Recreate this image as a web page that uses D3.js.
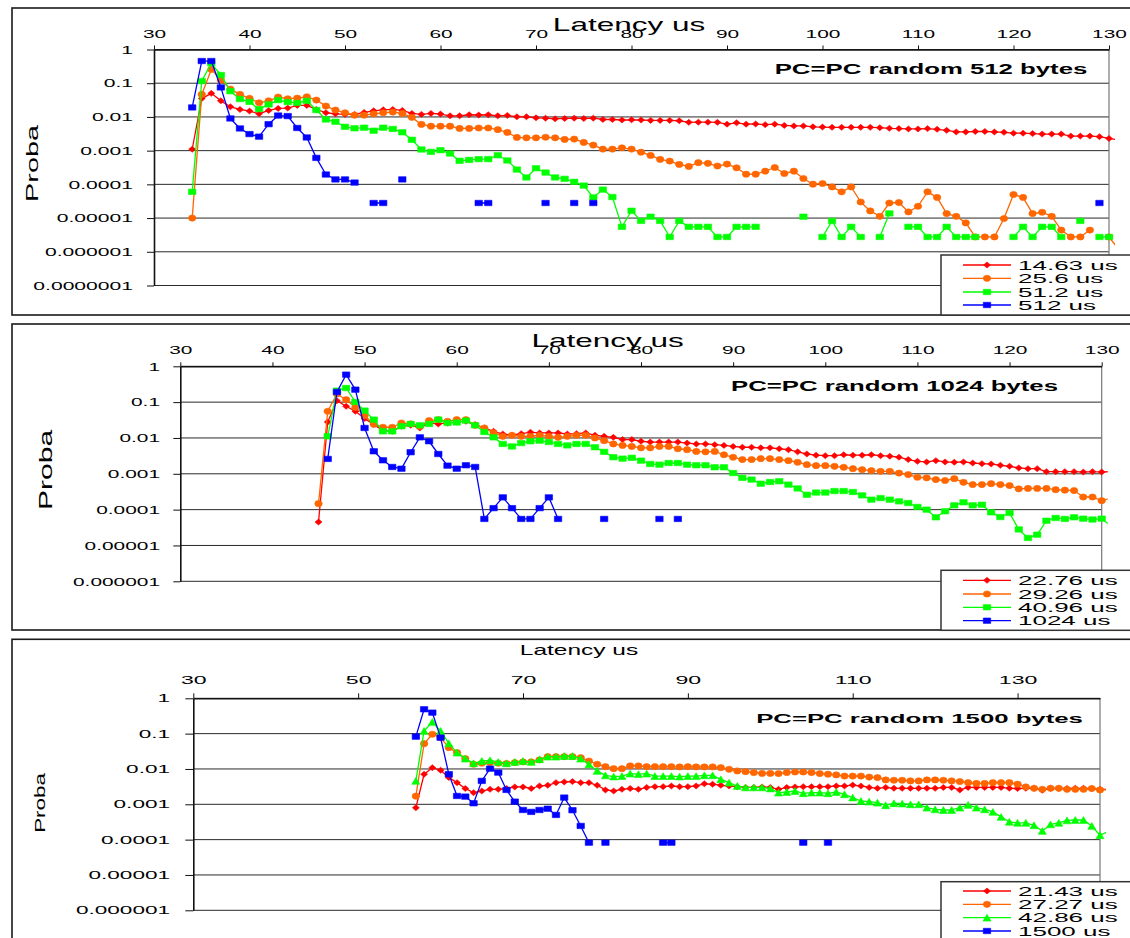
<!DOCTYPE html>
<html>
<head>
<meta charset="utf-8">
<script src="https://cdn.jsdelivr.net/npm/d3@7"></script>
<style>
  body { margin: 0; background: #fff; }
  svg { display: block; }
</style>
</head>
<body>
<svg id="chart" width="1130" height="938"></svg>
<script>
// ---------------- data ----------------
// Latency histograms (1 us bins), probability per bin. null = empty bin.

const yLabels7 = ['1', '0.1', '0.01', '0.001', '0.0001', '0.00001', '0.000001', '0.0000001'];
const yLabels6 = ['1', '0.1', '0.01', '0.001', '0.0001', '0.00001', '0.000001'];
const xLabels10 = [30, 40, 50, 60, 70, 80, 90, 100, 110, 120, 130];
const xLabels20 = [30, 50, 70, 90, 110, 130];

// 512 bytes
const lat512 = [34, 35, 36, 37, 38, 39, 40, 41, 42, 43,
  44, 45, 46, 47, 48, 49, 50, 51, 52, 53,
  54, 55, 56, 57, 58, 59, 60, 61, 62, 63,
  64, 65, 66, 67, 68, 69, 70, 71, 72, 73,
  74, 75, 76, 77, 78, 79, 80, 81, 82, 83,
  84, 85, 86, 87, 88, 89, 90, 91, 92, 93,
  94, 95, 96, 97, 98, 99, 100, 101, 102, 103,
  104, 105, 106, 107, 108, 109, 110, 111, 112, 113,
  114, 115, 116, 117, 118, 119, 120, 121, 122, 123,
  124, 125, 126, 127, 128, 129, 130, 131];
const p512_14_63 = [0.0011, 0.035, 0.050, 0.030, 0.020, 0.0167, 0.0149, 0.0124, 0.0156, 0.0179,
  0.0183, 0.022, 0.022, 0.0167, 0.0133, 0.0124, 0.0119, 0.0119, 0.0136, 0.0152,
  0.0163, 0.0167, 0.0156, 0.0127, 0.0119, 0.0127, 0.0122, 0.0108, 0.0108, 0.0116,
  0.0114, 0.0116, 0.0108, 0.0111, 0.0101, 0.0101, 0.0094, 0.0092, 0.0088, 0.0090,
  0.0092, 0.0090, 0.0092, 0.0084, 0.0084, 0.0081, 0.0082, 0.0081, 0.0079, 0.0079,
  0.0079, 0.0077, 0.0069, 0.0070, 0.0070, 0.0069, 0.0061, 0.0067, 0.0061, 0.0062,
  0.0059, 0.0061, 0.0056, 0.0054, 0.0054, 0.0051, 0.0050, 0.0049, 0.0049, 0.0049,
  0.0049, 0.0049, 0.0048, 0.0046, 0.0045, 0.0044, 0.0044, 0.0045, 0.0043, 0.0040,
  0.0036, 0.0036, 0.0037, 0.0037, 0.0036, 0.0035, 0.0033, 0.0033, 0.0032, 0.0031,
  0.0031, 0.0031, 0.0027, 0.0027, 0.0027, 0.0026, 0.0023, 0.0021];
const p512_25_6 = [1e-5, 0.0466, 0.257, 0.124, 0.067, 0.0466, 0.0355, 0.0263, 0.030, 0.0388,
  0.0346, 0.036, 0.0396, 0.0316, 0.021, 0.016, 0.0133, 0.0113, 0.0113, 0.0124,
  0.0133, 0.0139, 0.0127, 0.0097, 0.0060, 0.0053, 0.0053, 0.0053, 0.00455, 0.00455,
  0.0047, 0.0047, 0.0042, 0.00347, 0.00246, 0.0024, 0.0024, 0.0025, 0.0024, 0.00215,
  0.0022, 0.00175, 0.00146, 0.00111, 0.00111, 0.00121, 0.00111, 0.0009, 0.00072, 0.00055,
  0.00049, 0.00039, 0.00034, 0.00044, 0.00042, 0.00035, 0.0004, 0.00031, 0.0002, 0.0002,
  0.000246, 0.000316, 0.00021, 0.000246, 0.000149, 0.000101, 0.000106, 8.4e-5, 6.0e-5, 8.4e-5,
  3.0e-5, 1.63e-5, 1.13e-5, 2.8e-5, 2.9e-5, 1.52e-5, 2.24e-5, 6.0e-5, 4.1e-5, 1.36e-5,
  1.13e-5, 7.2e-6, 2.75e-6, 2.75e-6, 2.75e-6, 9.7e-6, 5.0e-5, 4.1e-5, 1.36e-5, 1.49e-5,
  1.13e-5, 4.4e-6, 2.75e-6, 2.75e-6, 4.4e-6, null, 2.75e-6, 1.2e-6];
const p512_51_2 = [6.0e-5, 0.116, 0.389, 0.175, 0.058, 0.034, 0.028, 0.017, 0.0235, 0.0316,
  0.0276, 0.026, 0.030, 0.016, 0.0084, 0.0072, 0.0051, 0.0046, 0.0048, 0.0039,
  0.0048, 0.0044, 0.0035, 0.0021, 0.00108, 0.00092, 0.00103, 0.00082, 0.0005, 0.00053,
  0.00056, 0.00056, 0.00073, 0.00051, 0.000275, 0.00016, 0.0003, 0.000224, 0.00016, 0.000146,
  0.000119, 9.2e-5, 4.1e-5, 7.0e-5, 4.2e-5, 5.5e-6, 1.65e-5, 8.25e-6, 1.1e-5, 8.25e-6,
  2.75e-6, 8.25e-6, 5.5e-6, 5.5e-6, 5.5e-6, 2.75e-6, 2.75e-6, 5.5e-6, 5.5e-6, 5.5e-6,
  null, null, null, null, 1.1e-5, null, 2.75e-6, 8.25e-6, 2.75e-6, 5.5e-6,
  2.75e-6, null, 2.75e-6, 1.375e-5, null, 5.5e-6, 5.5e-6, 2.75e-6, 2.75e-6, 5.5e-6,
  2.75e-6, 2.75e-6, 2.75e-6, null, null, null, 2.75e-6, 5.5e-6, 2.75e-6, 5.5e-6,
  5.5e-6, 2.75e-6, null, 8.25e-6, null, 2.75e-6, 2.75e-6, null];
const p512_512 = [0.0191, 0.455, 0.455, 0.075, 0.009, 0.00455, 0.0031, 0.0026, 0.0061, 0.011,
  0.0106, 0.0047, 0.00246, 0.00061, 0.000196, 0.00014, 0.00014, 0.000113, null, 2.8e-5,
  2.8e-5, null, 0.00014, null, null, null, null, null, null, null,
  2.8e-5, 2.8e-5, null, null, null, null, null, 2.8e-5, null, null,
  2.8e-5, null, 2.8e-5, null, null, null, null, null, null, null,
  null, null, null, null, null, null, null, null, null, null,
  null, null, null, null, null, null, null, null, null, null,
  null, null, null, null, null, null, null, null, null, null,
  null, null, null, null, null, null, null, null, null, null,
  null, null, null, null, null, 2.8e-5, null, null];

// 1024 bytes
const lat1024 = [45, 46, 47, 48, 49, 50, 51, 52, 53, 54,
  55, 56, 57, 58, 59, 60, 61, 62, 63, 64,
  65, 66, 67, 68, 69, 70, 71, 72, 73, 74,
  75, 76, 77, 78, 79, 80, 81, 82, 83, 84,
  85, 86, 87, 88, 89, 90, 91, 92, 93, 94,
  95, 96, 97, 98, 99, 100, 101, 102, 103, 104,
  105, 106, 107, 108, 109, 110, 111, 112, 113, 114,
  115, 116, 117, 118, 119, 120, 121, 122, 123, 124,
  125, 126, 127, 128, 129, 130, 131];
const p1024_22_76 = [4.5e-5, 0.028, 0.110, 0.0765, 0.0555, 0.0347, 0.024, 0.016, 0.0153, 0.0212,
  0.0226, 0.019, 0.0262, 0.0246, 0.0262, 0.028, 0.0292, 0.0236, 0.019, 0.0153,
  0.0129, 0.0119, 0.0132, 0.0144, 0.0138, 0.0138, 0.0138, 0.0129, 0.0132, 0.0138,
  0.0119, 0.0111, 0.0104, 0.009, 0.009, 0.0081, 0.0077, 0.0077, 0.0077, 0.0077,
  0.0072, 0.0068, 0.0068, 0.0065, 0.0062, 0.0058, 0.0055, 0.0055, 0.0053, 0.0053,
  0.005, 0.0047, 0.0041, 0.00357, 0.0033, 0.0032, 0.0032, 0.0034, 0.0033, 0.0033,
  0.0034, 0.0032, 0.0031, 0.0029, 0.0025, 0.00223, 0.00214, 0.00233, 0.00214, 0.0021,
  0.00214, 0.002, 0.00192, 0.00188, 0.00173, 0.00162, 0.00146, 0.00139, 0.00139, 0.00115,
  0.00115, 0.00115, 0.00115, 0.00112, 0.00115, 0.00112, 0.00115];
const p1024_29_26 = [1.47e-4, 0.0555, 0.169, 0.117, 0.0718, 0.042, 0.024, 0.0199, 0.0199, 0.0262,
  0.0246, 0.0212, 0.0305, 0.0325, 0.0292, 0.0325, 0.0325, 0.0226, 0.019, 0.0138,
  0.0111, 0.0119, 0.0111, 0.0111, 0.0119, 0.0111, 0.0104, 0.0111, 0.0119, 0.0119,
  0.01, 0.0084, 0.0068, 0.0062, 0.0058, 0.0053, 0.0053, 0.0058, 0.0058, 0.005,
  0.0047, 0.0042, 0.0041, 0.0042, 0.0034, 0.0029, 0.0025, 0.0025, 0.00265, 0.00265,
  0.0025, 0.00233, 0.0021, 0.0018, 0.00169, 0.00169, 0.00162, 0.00152, 0.00139, 0.0013,
  0.00122, 0.00117, 0.00117, 0.00105, 0.00095, 0.0008, 0.00077, 0.00069, 0.00065, 0.00073,
  0.00058, 0.0005, 0.0005, 0.00053, 0.0005, 0.00047, 0.00038, 0.00039, 0.00039, 0.00039,
  0.00036, 0.00035, 0.00034, 0.000225, 0.000225, 0.000178, 0.00021];
const p1024_40_96 = [null, 0.0111, 0.209, 0.248, 0.101, 0.058, 0.0325, 0.0153, 0.0153, 0.0212,
  0.0246, 0.0226, 0.0246, 0.0325, 0.0262, 0.027, 0.0305, 0.0226, 0.0147, 0.0104,
  0.0068, 0.0058, 0.0072, 0.0081, 0.0084, 0.0077, 0.0068, 0.0062, 0.0068, 0.0068,
  0.0055, 0.0041, 0.0029, 0.00265, 0.0028, 0.00233, 0.00188, 0.0018, 0.002, 0.002,
  0.0018, 0.00173, 0.00173, 0.00152, 0.00152, 0.00105, 0.00077, 0.00069, 0.00053, 0.00059,
  0.00062, 0.0005, 0.00039, 0.00026, 0.0003, 0.0003, 0.00033, 0.00033, 0.00031, 0.00025,
  0.00019, 0.00021, 0.00019, 0.00017, 0.000153, 0.000119, 0.0001, 6.1e-5, 9.0e-5, 0.000132,
  0.00016, 0.000132, 0.000137, 8.4e-5, 6.2e-5, 8.1e-5, 2.8e-5, 1.62e-5, 2.0e-5, 4.9e-5,
  5.85e-5, 5.5e-5, 6.1e-5, 5.6e-5, 5.3e-5, 5.6e-5, 3.5e-5];
const p1024_1024 = [null, 0.0026, 0.192, 0.585, 0.223, 0.019, 0.00425, 0.00238, 0.00155, 0.00139,
  0.004, 0.0104, 0.0081, 0.00357, 0.00169, 0.00139, 0.00173, 0.00155, 5.5e-5, 1.1e-4,
  2.2e-4, 1.1e-4, 5.5e-5, 5.5e-5, 1.1e-4, 2.2e-4, 5.5e-5, null, null, null,
  null, 5.5e-5, null, null, null, null, null, 5.5e-5, null, 5.5e-5,
  null, null, null, null, null, null, null, null, null, null,
  null, null, null, null, null, null, null, null, null, null,
  null, null, null, null, null, null, null, null, null, null,
  null, null, null, null, null, null, null, null, null, null,
  null, null, null, null, null, null, null];

// 1500 bytes
const lat1500 = [57, 58, 59, 60, 61, 62, 63, 64, 65, 66,
  67, 68, 69, 70, 71, 72, 73, 74, 75, 76,
  77, 78, 79, 80, 81, 82, 83, 84, 85, 86,
  87, 88, 89, 90, 91, 92, 93, 94, 95, 96,
  97, 98, 99, 100, 101, 102, 103, 104, 105, 106,
  107, 108, 109, 110, 111, 112, 113, 114, 115, 116,
  117, 118, 119, 120, 121, 122, 123, 124, 125, 126,
  127, 128, 129, 130, 131, 132, 133, 134, 135, 136,
  137, 138, 139, 140, 141];
const p1500_21_43 = [0.0008, 0.0071, 0.0109, 0.0092, 0.0057, 0.0041, 0.0028, 0.00214, 0.00238, 0.00266,
  0.00266, 0.0028, 0.0031, 0.0031, 0.0028, 0.0033, 0.00345, 0.0041, 0.0043, 0.0044,
  0.0041, 0.0041, 0.00345, 0.00255, 0.00238, 0.00266, 0.0028, 0.00266, 0.003, 0.00316,
  0.00316, 0.0033, 0.00316, 0.00316, 0.0033, 0.0038, 0.0037, 0.00345, 0.0033, 0.00316,
  0.003, 0.003, 0.0031, 0.003, 0.00266, 0.003, 0.0031, 0.00316, 0.00316, 0.00316,
  0.00316, 0.0033, 0.0033, 0.0035, 0.0033, 0.003, 0.00284, 0.003, 0.00284, 0.00284,
  0.00284, 0.00284, 0.00284, 0.00284, 0.003, 0.003, 0.00255, 0.003, 0.003, 0.003,
  0.003, 0.003, 0.00284, 0.0028, 0.00284, 0.00284, 0.0025, 0.00284, 0.0028, 0.0028,
  0.00284, 0.00284, 0.0028, 0.00266, 0.00266];
const p1500_27_27 = [0.0017, 0.052, 0.096, 0.077, 0.040, 0.029, 0.0196, 0.0136, 0.0145, 0.0151,
  0.0145, 0.0143, 0.0151, 0.0158, 0.0158, 0.018, 0.0223, 0.0223, 0.0223, 0.0223,
  0.0209, 0.0168, 0.0136, 0.0116, 0.0102, 0.0102, 0.0122, 0.0122, 0.0116, 0.0116,
  0.0116, 0.0116, 0.0114, 0.0116, 0.0114, 0.0114, 0.0114, 0.0109, 0.0098, 0.0088,
  0.0084, 0.0079, 0.0075, 0.0075, 0.0074, 0.0079, 0.0082, 0.0082, 0.0079, 0.0074,
  0.0071, 0.0068, 0.0063, 0.0063, 0.0063, 0.0059, 0.0057, 0.0049, 0.0048, 0.0048,
  0.0046, 0.0046, 0.0049, 0.0049, 0.0048, 0.0046, 0.0044, 0.0041, 0.0039, 0.0039,
  0.0041, 0.0041, 0.0041, 0.0037, 0.0031, 0.00284, 0.00266, 0.00284, 0.00284, 0.00266,
  0.00266, 0.00266, 0.0028, 0.00255, 0.00255];
const p1500_42_86 = [0.0046, 0.119, 0.214, 0.119, 0.053, 0.029, 0.0196, 0.0145, 0.0168, 0.0176,
  0.0158, 0.0145, 0.0158, 0.0168, 0.0158, 0.0188, 0.0223, 0.0223, 0.0233, 0.0233,
  0.0196, 0.0136, 0.0088, 0.0066, 0.0061, 0.0063, 0.0074, 0.0071, 0.0074, 0.0063,
  0.0063, 0.0063, 0.0061, 0.0063, 0.0063, 0.0066, 0.0066, 0.0051, 0.0041, 0.0033,
  0.003, 0.003, 0.003, 0.0028, 0.00214, 0.00223, 0.00238, 0.00205, 0.00214, 0.00214,
  0.00205, 0.00223, 0.00192, 0.00155, 0.00124, 0.00119, 0.00111, 0.00094, 0.00107, 0.00105,
  0.001, 0.001, 0.0008, 0.00072, 0.00069, 0.00069, 0.0008, 0.00096, 0.0008, 0.00072,
  0.00061, 0.00044, 0.00032, 0.0003, 0.0003, 0.000255, 0.000176, 0.00027, 0.0003, 0.00035,
  0.00036, 0.00036, 0.000244, 0.000133, 0.00017];
const p1500_1500 = [0.082, 0.489, 0.393, 0.077, 0.0071, 0.00172, 0.00165, 0.00107, 0.0046, 0.0102,
  0.0079, 0.00255, 0.00119, 0.00069, 0.00061, 0.00069, 0.00075, 0.0005, 0.00155, 0.00068,
  0.000244, 8.2e-5, null, 8.2e-5, null, null, null, null, null, null,
  8.2e-5, 8.2e-5, null, null, null, null, null, null, null, null,
  null, null, null, null, null, null, null, 8.2e-5, null, null,
  8.2e-5, null, null, null, null, null, null, null, null, null,
  null, null, null, null, null, null, null, null, null, null,
  null, null, null, null, null, null, null, null, null, null,
  null, null, null, null, null];

// ---------------- styling ----------------
const RED = '#FF0000', ORANGE = '#FF6600', GREEN = '#00FF00', BLUE = '#0000FF';
const FONT = '"Liberation Sans", Arial, Helvetica, sans-serif';

const panels = [
  {
    title: 'PC=PC random 512 bytes',
    bins: lat512,
    series: [
      { name: '14.63 us', values: p512_14_63, color: RED, marker: 'diamond' },
      { name: '25.6 us', values: p512_25_6, color: ORANGE, marker: 'circle' },
      { name: '51.2 us', values: p512_51_2, color: GREEN, marker: 'square' },
      { name: '512 us', values: p512_512, color: BLUE, marker: 'square' }
    ],
    xLabels: xLabels10, yLabels: yLabels7,
    L: {
      frame: [12, 8, 1125, 307], left: 154, right: 1109, top: 49.5, bottom: 285.5,
      xDomain: [30, 130], yDomain: [1e-7, 1],
      yTick: 7, yPad: 14, yFont: 11.6, yK: 1.82,
      xTick: 4, xPad: 8, xFont: 11.6, xK: 1.8,
      xTitle: { x: 629, y: 31, size: 18, k: 1.75 },
      yTitle: { x: 37.7, y: 163.5, size: 16, k: 1.8 },
      head: { x: 931, y: 74, size: 14, k: 1.84 },
      legend: { x: 941, y: 255, h: 60, rows: [265, 278.3, 292, 305] }
    }
  },
  {
    title: 'PC=PC random 1024 bytes',
    bins: lat1024,
    series: [
      { name: '22.76 us', values: p1024_22_76, color: RED, marker: 'diamond' },
      { name: '29.26 us', values: p1024_29_26, color: ORANGE, marker: 'circle' },
      { name: '40.96 us', values: p1024_40_96, color: GREEN, marker: 'square' },
      { name: '1024 us', values: p1024_1024, color: BLUE, marker: 'square' }
    ],
    xLabels: xLabels10, yLabels: yLabels6,
    L: {
      frame: [12, 324, 1125, 306], left: 180.3, right: 1101.7, top: 366.3, bottom: 581.3,
      xDomain: [30, 130], yDomain: [1e-6, 1],
      yTick: 7, yPad: 13.3, yFont: 11.6, yK: 1.8,
      xTick: 4, xPad: 8.3, xFont: 11.6, xK: 1.8,
      xTitle: { x: 607.7, y: 347.3, size: 18, k: 1.75 },
      yTitle: { x: 51.7, y: 470, size: 18, k: 1.67 },
      head: { x: 894.5, y: 390.7, size: 14, k: 1.84 },
      legend: { x: 941, y: 570.3, h: 60, rows: [580.3, 594, 607.3, 620.7] }
    }
  },
  {
    title: 'PC=PC random 1500 bytes',
    bins: lat1500,
    series: [
      { name: '21.43 us', values: p1500_21_43, color: RED, marker: 'diamond' },
      { name: '27.27 us', values: p1500_27_27, color: ORANGE, marker: 'circle' },
      { name: '42.86 us', values: p1500_42_86, color: GREEN, marker: 'triangle' },
      { name: '1500 us', values: p1500_1500, color: BLUE, marker: 'square' }
    ],
    xLabels: xLabels20, yLabels: yLabels6,
    L: {
      frame: [12, 639.3, 1125, 310], left: 193.3, right: 1100, top: 698.3, bottom: 910.3,
      xDomain: [30, 140], yDomain: [1e-6, 1],
      yTick: 8, yPad: 15.3, yFont: 11, yK: 2.05,
      xTick: 5, xPad: 9, xFont: 11, xK: 2.1,
      xTitle: { x: 579, y: 655.3, size: 14.4, k: 1.7 },
      yTitle: { x: 45, y: 803, size: 14, k: 1.6 },
      head: { x: 919.5, y: 723.3, size: 13, k: 1.98 },
      legend: { x: 941, y: 881.7, h: 70, rows: [891, 904.3, 917.7, 931] }
    }
  }
];

// marker outlines (slightly wider than tall)
const MARK = {
  diamond: { w: 7, h: 6, d: (w, h) => `M0,${-h / 2}L${w / 2},0L0,${h / 2}L${-w / 2},0Z` },
  circle: { w: 7.5, h: 6.2, d: (w, h) => `M${-w / 2},0a${w / 2},${h / 2} 0 1,0 ${w},0a${w / 2},${h / 2} 0 1,0 ${-w},0Z` },
  square: { w: 7.4, h: 5.4, d: (w, h) => `M${-w / 2},${-h / 2}h${w}v${h}h${-w}Z` },
  triangle: { w: 8, h: 6.8, d: (w, h) => `M0,${-h / 2}L${w / 2},${h / 2}L${-w / 2},${h / 2}Z` }
};
const markPath = m => MARK[m].d(MARK[m].w, MARK[m].h);

// stretch text horizontally along its baseline, keeping its anchor point
function widen(sel, k) {
  sel.each(function () {
    const t = d3.select(this);
    const x0 = +(t.attr('x') || 0);
    t.attr('x', x0 / k).attr('transform', `scale(${k},1)`);
  });
}

function placedText(parent, x, y, str, size, k, opts = {}) {
  const g = parent.append('g').attr('transform', `translate(${x},${y})` + (opts.rotate ? ` rotate(${opts.rotate})` : ''));
  const t = g.append('text')
    .attr('text-anchor', opts.anchor || 'middle')
    .attr('font-family', FONT)
    .attr('font-size', size)
    .attr('font-weight', opts.bold ? 'bold' : 'normal')
    .attr('fill', '#000')
    .text(str);
  widen(t, k);
  return t;
}

const svg = d3.select('#chart');
svg.append('rect').attr('width', 1130).attr('height', 938).attr('fill', '#fff');

panels.forEach((P, pi) => {
  const L = P.L;
  const g = svg.append('g');

  // outer frame
  g.append('rect')
    .attr('x', L.frame[0]).attr('y', L.frame[1])
    .attr('width', L.frame[2]).attr('height', L.frame[3])
    .attr('fill', '#fff').attr('stroke', '#1a1a1a').attr('stroke-width', 1.6);

  const x = d3.scaleLinear().domain(L.xDomain).range([L.left, L.right]);
  const y = d3.scaleLog().domain(L.yDomain).range([L.bottom, L.top]);
  const yTicks = P.yLabels.map(Number);

  // horizontal gridlines at each decade
  g.append('g').selectAll('line').data(yTicks).join('line')
    .attr('x1', L.left).attr('x2', L.right)
    .attr('y1', d => y(d)).attr('y2', d => y(d))
    .attr('stroke', '#2a2a2a').attr('stroke-width', 1);

  // right edge of the plot area
  g.append('line')
    .attr('x1', L.right).attr('x2', L.right).attr('y1', L.top).attr('y2', L.bottom)
    .attr('stroke', '#777').attr('stroke-width', 1.2);

  // series
  const clipId = 'clip' + pi;
  g.append('clipPath').attr('id', clipId).append('rect')
    .attr('x', L.left).attr('y', L.top - 12)
    .attr('width', L.right - L.left + 6).attr('height', L.bottom - L.top + 24);

  const line = d3.line()
    .defined(d => d.p != null)
    .x(d => x(d.lat))
    .y(d => y(d.p));

  const plot = g.append('g');
  P.series.forEach(s => {
    const pts = P.bins.map((lat, i) => ({ lat, p: s.values[i] }));
    plot.append('path')
      .datum(pts)
      .attr('clip-path', `url(#${clipId})`)
      .attr('fill', 'none')
      .attr('stroke', s.color)
      .attr('stroke-width', 1.3)
      .attr('stroke-linejoin', 'round')
      .attr('d', line);
    plot.append('g').selectAll('path')
      .data(pts.filter(d => d.p != null && d.lat <= L.xDomain[1]))
      .join('path')
      .attr('transform', d => `translate(${x(d.lat)},${y(d.p)})`)
      .attr('d', markPath(s.marker))
      .attr('fill', s.color)
      .attr('stroke', s.color)
      .attr('stroke-width', 0.6);
  });

  // y axis (left)
  const ya = g.append('g')
    .attr('transform', `translate(${L.left},0)`)
    .call(d3.axisLeft(y)
      .tickValues(yTicks)
      .tickFormat((d, i) => P.yLabels[i])
      .tickSize(L.yTick).tickPadding(L.yPad).tickSizeOuter(0));
  ya.attr('font-family', FONT).attr('font-size', L.yFont);
  ya.select('.domain').attr('stroke', '#111').attr('stroke-width', 1.6);
  ya.selectAll('.tick line').attr('stroke', '#111');
  widen(ya.selectAll('.tick text').attr('fill', '#000'), L.yK);

  // x axis (top)
  const xa = g.append('g')
    .attr('transform', `translate(0,${L.top})`)
    .call(d3.axisTop(x)
      .tickValues(P.xLabels)
      .tickFormat(d => String(d))
      .tickSize(L.xTick).tickPadding(L.xPad).tickSizeOuter(0));
  xa.attr('font-family', FONT).attr('font-size', L.xFont);
  xa.select('.domain').attr('stroke', '#111').attr('stroke-width', 1.5);
  xa.selectAll('.tick line').attr('stroke', '#111');
  widen(xa.selectAll('.tick text').attr('fill', '#000'), L.xK);

  // axis titles and chart title
  placedText(g, L.xTitle.x, L.xTitle.y, 'Latency us', L.xTitle.size, L.xTitle.k);
  placedText(g, L.yTitle.x, L.yTitle.y, 'Proba', L.yTitle.size, L.yTitle.k, { rotate: -90 });
  placedText(g, L.head.x, L.head.y, P.title, L.head.size, L.head.k, { bold: true });

  // legend
  const lg = g.append('g');
  lg.append('rect')
    .attr('x', L.legend.x).attr('y', L.legend.y)
    .attr('width', 1130 - L.legend.x + 10).attr('height', L.legend.h)
    .attr('fill', '#fff').attr('stroke', '#333').attr('stroke-width', 1.5);
  P.series.forEach((s, i) => {
    const ry = L.legend.rows[i];
    lg.append('line')
      .attr('x1', 963).attr('x2', 1011).attr('y1', ry).attr('y2', ry)
      .attr('stroke', s.color).attr('stroke-width', 1.3);
    lg.append('path')
      .attr('transform', `translate(987,${ry})`)
      .attr('d', markPath(s.marker))
      .attr('fill', s.color).attr('stroke', s.color).attr('stroke-width', 0.6);
    placedText(lg, 1018, ry + 4.7, s.name, 13, 2.0, { anchor: 'start' });
  });
});
</script>
</body>
</html>
